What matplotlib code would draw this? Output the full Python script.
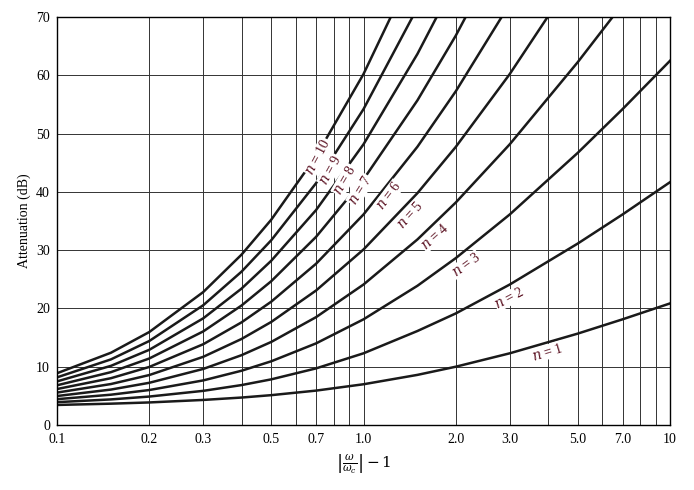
import numpy as np
import matplotlib
matplotlib.use("Agg")
import matplotlib.pyplot as plt
from matplotlib.ticker import FixedLocator, NullFormatter

plt.rcParams['font.family'] = ['Liberation Serif', 'DejaVu Serif']
plt.rcParams['mathtext.fontset'] = 'dejavuserif'

x = [0.1, 0.15, 0.2, 0.3, 0.4, 0.5, 0.7, 1.0, 1.5, 2.0, 3.0, 5.0, 7.0, 10.0]
att = {
    1: [3.44, 3.66, 3.87, 4.30, 4.71, 5.12, 5.90, 6.99, 8.60, 10.0, 12.30, 15.68, 18.13, 20.86],
    2: [3.92, 4.39, 4.88, 5.86, 6.85, 7.83, 9.71, 12.30, 16.13, 19.14, 24.10, 31.13, 36.12, 41.66],
    3: [4.43, 5.20, 6.00, 7.65, 9.31, 10.93, 14.00, 18.13, 23.89, 28.63, 36.12, 46.69, 54.19, 62.49],
    4: [4.97, 6.08, 7.24, 9.62, 11.98, 14.25, 18.50, 24.10, 31.84, 38.17, 48.16, 62.25, 72.2, 83.3],
    5: [5.56, 7.03, 8.57, 11.70, 14.76, 17.68, 23.07, 30.11, 39.79, 47.71, 60.21, 77.8, 90.3, 104.1],
    6: [6.17, 8.03, 9.96, 13.86, 17.61, 21.16, 27.66, 36.12, 47.75, 57.25, 72.25, 93.4, 108.4, 125.0],
    7: [6.81, 9.07, 11.41, 16.06, 20.50, 24.67, 32.27, 42.14, 55.71, 66.8, 84.3, 109.0, 126.4, 145.8],
    8: [7.48, 10.15, 12.90, 18.30, 23.40, 28.18, 36.87, 48.16, 63.67, 76.3, 96.3, 124.5, 144.5, 166.6],
    9: [8.17, 11.26, 14.41, 20.55, 26.31, 31.70, 41.48, 54.19, 71.6, 85.9, 108.4, 140.1, 162.6, 187.5],
    10: [8.88, 12.40, 15.95, 22.81, 29.23, 35.22, 46.09, 60.21, 79.6, 95.4, 120.4, 155.6, 180.6, 208.3],
}
label_pos = {10: (0.71, 46, 62), 9: (0.78, 43.7, 61), 8: (0.87, 42, 60), 7: (0.975, 40.3, 58),
             6: (1.21, 39.3, 53), 5: (1.42, 36, 48), 4: (1.71, 32.3, 42), 3: (2.16, 27.5, 36),
             2: (3.0, 21.8, 28), 1: (3.97, 12.5, 17)}
xticks = [0.1, 0.2, 0.3, 0.5, 0.7, 1.0, 2.0, 3.0, 5.0, 7.0, 10]
xticklabels = ['0.1', '0.2', '0.3', '0.5', '0.7', '1.0', '2.0', '3.0', '5.0', '7.0', '10']

fig = plt.figure(figsize=(6.94, 4.9), dpi=100)
ax = fig.add_axes([57/694, 65/490, 613/694, 408/490])
ax.set_xscale('log')
ax.set_xlim(0.1, 10)
ax.set_ylim(0, 70)

for n, y in att.items():
    ax.plot(x, y, color='#1a1a1a', lw=1.8, zorder=2)
for n, (lx, ly, rot) in label_pos.items():
    ax.text(lx, ly, f'$n$ = {n}', rotation=rot, ha='center', va='center', fontsize=10,
            color='#5a1020', bbox=dict(facecolor='white', edgecolor='none', pad=0.3), zorder=3)

ax.xaxis.set_major_locator(FixedLocator(xticks))
ax.set_xticklabels(xticklabels)
ax.xaxis.set_minor_locator(FixedLocator([0.4, 0.6, 0.8, 0.9, 4, 6, 8, 9]))
ax.xaxis.set_minor_formatter(NullFormatter())
ax.set_yticks(range(0, 71, 10))
ax.grid(True, which='both', color='#333333', lw=0.7)
ax.tick_params(which='both', length=0, labelsize=10)
ax.tick_params(axis='x', pad=6)
ax.tick_params(axis='y', pad=5)
for s in ax.spines.values():
    s.set_linewidth(1.0)
ax.set_ylabel('Attenuation (dB)', fontsize=10)
ax.set_xlabel(r'$\left|\frac{\omega}{\omega_c}\right| - 1$', fontsize=11)
fig.savefig('out.png', dpi=100)
